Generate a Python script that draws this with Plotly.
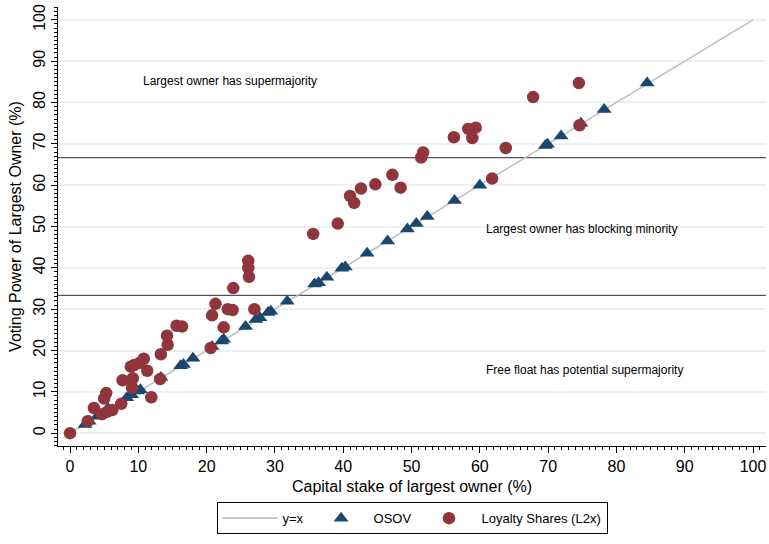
import plotly.graph_objects as go

# y = x reference line
ref_x = [0, 100]
ref_y = [0, 100]

# OSOV (triangles)
osov_x = [2.2, 2.8, 4.0, 5.3, 5.6, 8.3, 9.0, 9.9, 10.3, 13.3, 16.2, 16.6, 18.0, 20.8, 22.2, 22.5,
          25.7, 27.2, 27.8, 29.0, 29.4, 31.8, 35.8, 36.4, 37.6, 39.8, 40.3, 43.5, 46.5, 49.4,
          50.7, 52.3, 56.3, 60.0, 69.6, 69.9, 71.9, 74.8, 78.2, 84.5]
osov_y = [2.1, 2.9, 4.1, 5.5, 5.9, 8.6, 9.3, 10.2, 10.5, 13.5, 16.3, 16.6, 18.1, 21.0, 22.3, 22.7,
          25.8, 27.5, 27.9, 29.2, 29.5, 31.9, 36.1, 36.4, 37.7, 39.9, 40.2, 43.5, 46.5, 49.4,
          50.7, 52.4, 56.3, 60.0, 69.6, 69.9, 71.9, 75.0, 78.3, 84.7]

# Loyalty Shares (L2x) (circles)
loy_x = [0.0, 2.6, 3.5, 4.7, 5.0, 5.3, 5.5, 6.2, 7.5, 7.7, 8.9, 9.4, 9.2, 9.1, 10.2, 10.8, 11.3,
         11.9, 13.2, 13.3, 14.3, 14.2, 15.6, 16.4, 20.6, 20.8, 21.3, 22.5, 23.1, 23.8, 23.9,
         26.1, 26.1, 26.2, 27.0, 35.6, 39.2, 41.0, 41.6, 42.6, 44.7, 47.2, 48.4, 51.4, 51.7,
         56.2, 58.3, 59.4, 58.9, 61.8, 63.8, 67.8, 74.5, 74.6]
loy_y = [0.0, 2.9, 6.1, 4.6, 8.4, 9.7, 5.2, 5.6, 7.1, 12.8, 16.1, 16.5, 13.3, 11.0, 17.0, 18.0, 15.1,
         8.7, 13.1, 19.1, 21.4, 23.6, 26.0, 25.8, 20.6, 28.5, 31.3, 25.6, 30.0, 29.8, 35.1,
         41.7, 40.0, 37.8, 30.0, 48.2, 50.7, 57.4, 55.7, 59.2, 60.2, 62.5, 59.4, 66.7, 67.9,
         71.6, 73.6, 73.9, 71.4, 61.6, 69.0, 81.3, 84.7, 74.5]

thresholds = [100 / 3, 200 / 3]

labels = [
    ("Largest owner has supermajority", 23.4, 85.2),
    ("Largest owner has blocking minority", 74.9, 49.4),
    ("Free float has potential supermajority", 75.3, 15.3),
]

FONT = "Liberation Sans, Arial, Helvetica, sans-serif"

fig = go.Figure()
fig.add_trace(go.Scatter(x=ref_x, y=ref_y, mode="lines", name="y=x",
                         line=dict(color="#BEBEBE", width=1.6)))
fig.add_trace(go.Scatter(x=osov_x, y=osov_y, mode="markers", name="OSOV",
                         marker=dict(symbol="triangle-up", size=13, color="#1A476F",
                                     line=dict(width=0))))
fig.add_trace(go.Scatter(x=loy_x, y=loy_y, mode="markers", name="Loyalty Shares (L2x)",
                         marker=dict(symbol="circle", size=12.5, color="#90353B",
                                     line=dict(width=0))))

for t in thresholds:
    fig.add_shape(type="line", xref="paper", x0=0, x1=1, yref="y", y0=t, y1=t,
                  line=dict(color="#555555", width=1.2), layer="below")

for txt, xx, yy in labels:
    fig.add_annotation(x=xx, y=yy, text=txt, showarrow=False,
                       font=dict(family=FONT, size=12, color="black"))

fig.update_layout(
    width=769, height=544,
    margin=dict(l=58, r=3, t=7, b=98, autoexpand=False),
    paper_bgcolor="white", plot_bgcolor="white",
    font=dict(family=FONT, color="black"),
    showlegend=True,
    legend=dict(orientation="h", x=0.5, xanchor="center", y=-0.128, yanchor="top",
                bordercolor="black", borderwidth=1, font=dict(size=13),
                itemwidth=55, traceorder="normal"),
)
fig.update_xaxes(
    range=[-1.76, 101.9], tickvals=list(range(0, 101, 10)), automargin=False,
    showgrid=False, zeroline=False, showline=True, linecolor="black", linewidth=1,
    ticks="outside", ticklen=6, tickcolor="black",
    minor=dict(dtick=1, ticks="outside", ticklen=3, tickcolor="black", showgrid=False),
    tickfont=dict(size=16),
    title=dict(text="Capital stake of largest owner (%)", font=dict(size=16), standoff=6),
)
fig.update_yaxes(
    range=[-3.1, 103.1], tickvals=list(range(0, 101, 10)), tickangle=-90, automargin=False,
    showgrid=True, gridcolor="#EAF2F3", gridwidth=1.5,
    zeroline=False, showline=True, linecolor="black", linewidth=1,
    ticks="outside", ticklen=6, tickcolor="black",
    minor=dict(dtick=1, ticks="outside", ticklen=3, tickcolor="black", showgrid=False),
    tickfont=dict(size=16),
    title=dict(text="Voting Power of Largest Owner (%)", font=dict(size=16), standoff=4),
)

fig.write_html("out.html", config={"displayModeBar": False},
               post_script="document.body.style.margin='0px';")
